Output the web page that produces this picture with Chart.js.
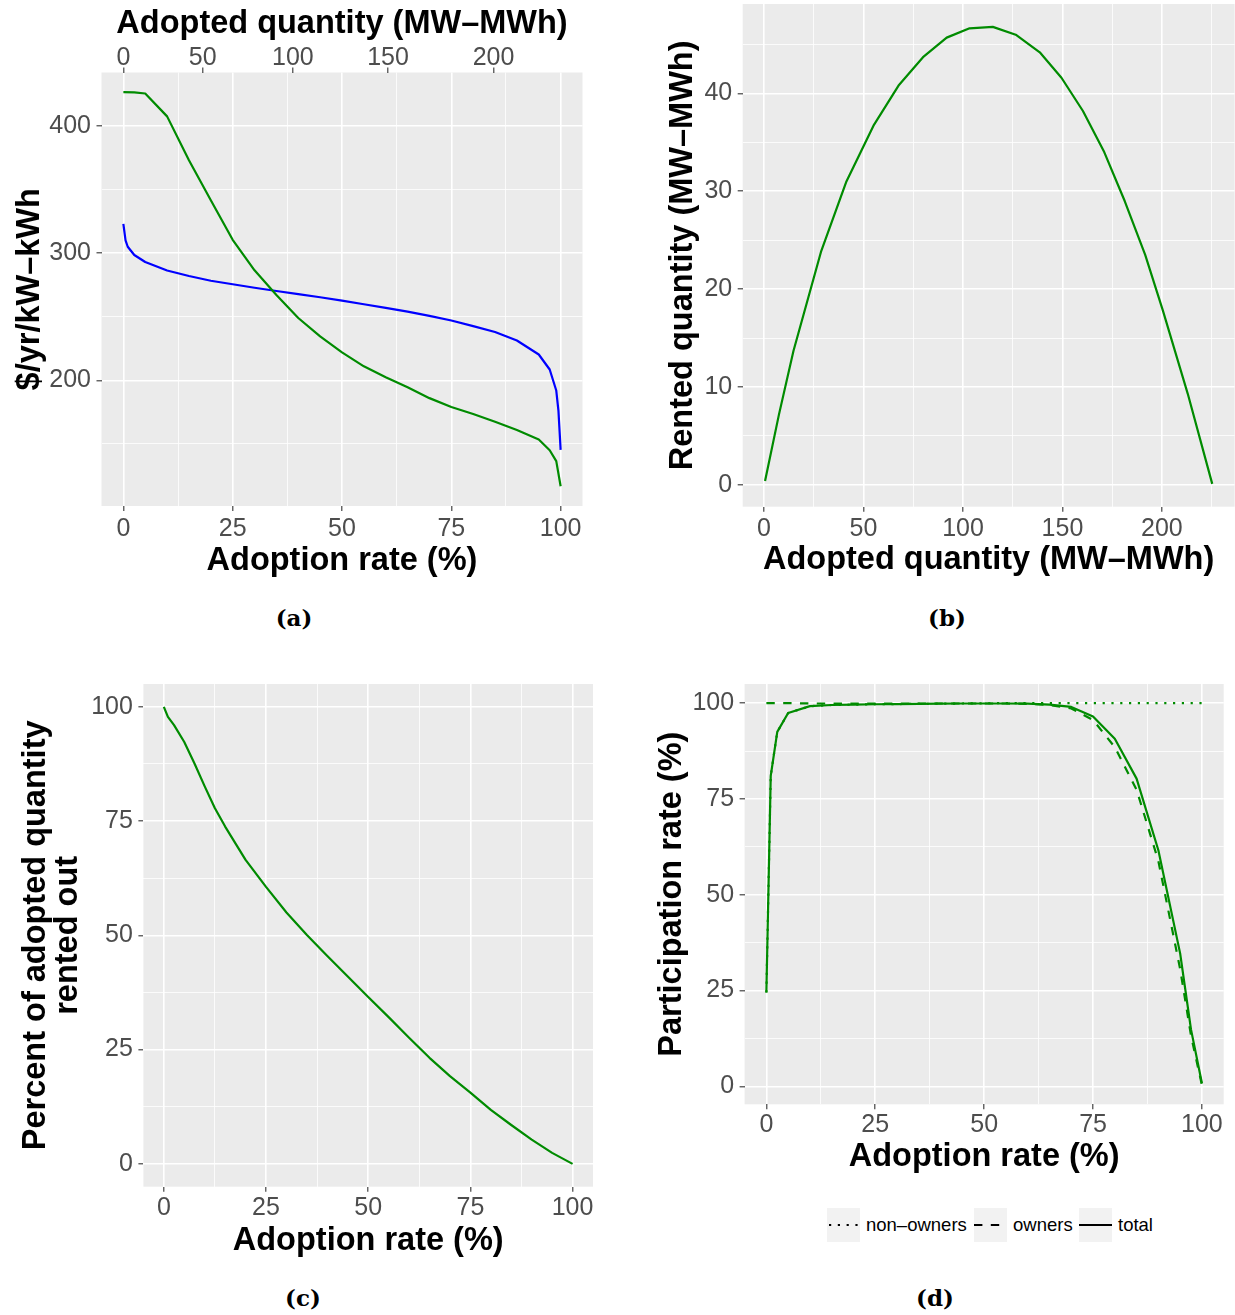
<!DOCTYPE html>
<html><head><meta charset="utf-8">
<script src="https://cdn.jsdelivr.net/npm/chart.js@4.4.1/dist/chart.umd.min.js"></script>
<style>
html,body{margin:0;padding:0;background:#fff;}
#root{position:relative;width:1235px;height:1315px;overflow:hidden;background:#fff;}
canvas{position:absolute;}
.cap{position:absolute;font-family:"DejaVu Serif",serif;font-weight:bold;font-size:23px;transform:translate(-50%,-50%);white-space:nowrap;color:#000;}
.lg{position:absolute;font-family:"Liberation Sans",Arial,sans-serif;font-size:18.5px;color:#000;line-height:34px;top:1208px;white-space:nowrap;}
.key{position:absolute;top:1208px;width:33px;height:34px;background:#F2F2F2;}
.key svg{position:absolute;left:0;top:0;}
</style></head>
<body><div id="root">
<div class="cap" style="left:294px;top:617px">(a)</div>
<div class="cap" style="left:947px;top:617px">(b)</div>
<div class="cap" style="left:303px;top:1297px">(c)</div>
<div class="cap" style="left:935px;top:1297px">(d)</div>
<div class="key" style="left:827px"><svg width="33" height="34"><line x1="2" y1="17" x2="32" y2="17" stroke="#000" stroke-width="2.2" stroke-dasharray="2.2 6.6"/></svg></div>
<div class="lg" style="left:866px">non–owners</div>
<div class="key" style="left:974px"><svg width="33" height="34"><line x1="0" y1="17" x2="33" y2="17" stroke="#000" stroke-width="2.2" stroke-dasharray="8.4 8.4"/></svg></div>
<div class="lg" style="left:1013px">owners</div>
<div class="key" style="left:1079px"><svg width="33" height="34"><line x1="0" y1="17" x2="33" y2="17" stroke="#000" stroke-width="2.2"/></svg></div>
<div class="lg" style="left:1118px">total</div>
</div>
<script>
// ---------- DATA ----------
// (a) annualized cost vs adoption rate
const aRateGreen = [0, 2.5, 5, 10, 15, 20, 25, 30, 35, 40, 45, 50, 55, 60, 65, 70, 75, 80, 85, 90, 95, 97.5, 99, 100];
const aGreen     = [426.5, 426.3, 425.5, 407.5, 373, 341.5, 310.5, 286.5, 267, 249, 234.5, 222, 211, 202.5, 194.5, 186, 179, 173.5, 167.5, 161, 153.5, 145, 136.5, 116.7];
const aRateBlue  = [0, 0.5, 1, 2.5, 5, 10, 15, 20, 25, 30, 35, 40, 45, 50, 55, 60, 65, 70, 75, 80, 85, 90, 95, 97.5, 99, 99.5, 100];
const aBlue      = [323, 310, 305, 298.5, 293, 286.3, 282, 278.3, 275.5, 272.8, 270.2, 267.7, 265.3, 262.6, 259.8, 257, 254, 250.7, 247, 242.6, 238, 231.3, 220.3, 208.5, 192, 176, 145.3];
const aXTicks = [0, 12.5, 25, 37.5, 50, 62.5, 75, 87.5, 100];
const aXMajor = [0, 25, 50, 75, 100];
const aYTicks = [150, 200, 250, 300, 350, 400];
const aYMajor = [200, 300, 400];
const aTopTickRate   = [0, 18.16, 38.77, 60.53, 84.65];
const aTopTickLabels = ['0', '50', '100', '150', '200'];

// (b) rented vs adopted quantity
const bQty  = [0.5, 7.5, 14.8, 28.6, 41.4, 55.0, 67.6, 79.9, 91.8, 103.3, 115.0, 126.5, 138.6, 149.5, 160.3, 171.0, 181.3, 191.6, 200.5, 213.0, 225.3];
const bRent = [0.4, 7.2, 13.7, 23.8, 31.0, 36.7, 40.8, 43.7, 45.7, 46.65, 46.8, 46.0, 44.2, 41.6, 38.2, 34.0, 29.0, 23.5, 17.8, 9.3, 0.1];
const bXTicks = [0, 25, 50, 75, 100, 125, 150, 175, 200, 225];
const bXMajor = [0, 50, 100, 150, 200];
const bYTicks = [0, 5, 10, 15, 20, 25, 30, 35, 40, 45];
const bYMajor = [0, 10, 20, 30, 40];

// (c) percent rented out vs adoption rate
const cRate = [0, 1, 2.5, 5, 7.5, 10, 12.5, 15, 20, 25, 30, 35, 40, 45, 50, 55, 60, 65, 70, 75, 80, 85, 90, 95, 100];
const cPct  = [100, 97.8, 96, 92.3, 87.6, 82.6, 77.8, 73.8, 66.5, 60.6, 55, 50.1, 45.5, 41, 36.5, 32.1, 27.6, 23.2, 19.2, 15.6, 11.8, 8.5, 5.3, 2.4, 0];

// (d) participation rate vs adoption rate
const dRate      = [0, 1, 2.5, 5, 10, 15, 20, 25, 30, 35, 40, 45, 50, 55, 60, 65, 70, 75, 80, 85, 90, 95, 97.5, 100];
const dTotal     = [24.5, 81, 92.5, 97.4, 99.2, 99.5, 99.6, 99.7, 99.75, 99.8, 99.85, 99.9, 99.9, 99.9, 99.85, 99.6, 99.0, 96.5, 90.7, 80.3, 61.6, 34.7, 14.8, 0.8];
const dOwners    = [100, 100, 100, 100, 99.9, 99.9, 99.9, 99.9, 99.9, 99.9, 99.9, 99.9, 99.9, 99.9, 99.8, 99.5, 98.6, 95.6, 88.5, 77.4, 58.8, 30.6, 13.2, 0.3];
const dNonOwners = [24.5, 81, 92.5, 97.4, 99.2, 99.5, 99.6, 99.7, 99.75, 99.8, 99.85, 99.9, 99.95, 100, 100, 100, 100, 100, 100, 100, 100, 100, 100, 100];
const cdTicks = [0, 12.5, 25, 37.5, 50, 62.5, 75, 87.5, 100];
const cdMajor = [0, 25, 50, 75, 100];

// ---------- HELPERS ----------
const FONT = '"Liberation Sans", Arial, Helvetica, sans-serif';
const GREEN = '#008B00', BLUE = '#0000FF';
function expand(arrs) {
  const all = [].concat(...arrs);
  const lo = Math.min(...all), hi = Math.max(...all), r = hi - lo;
  return [lo - 0.05 * r, hi + 0.05 * r];
}
const bgPlugin = {
  id: 'panelBg',
  beforeDraw(chart) {
    const {ctx, chartArea: a} = chart;
    ctx.save(); ctx.fillStyle = '#EBEBEB';
    ctx.fillRect(a.left, a.top, a.right - a.left, a.bottom - a.top);
    ctx.restore();
  }
};
function axis({pos, range, ticks, majors, labels, size, title, tpad, gridOn = true, lpad}) {
  const horiz = pos === 'top' || pos === 'bottom';
  const isMaj = v => majors.some(m => Math.abs(m - v) < 1e-9);
  return {
    type: 'linear', position: pos, min: range[0], max: range[1],
    afterBuildTicks: s => { s.ticks = ticks.map(v => ({value: v})); },
    afterFit: s => {
      if (horiz) s.height = size; else s.width = size;
      s.paddingLeft = 0; s.paddingRight = 0; s.paddingTop = 0; s.paddingBottom = 0;
    },
    border: {display: false},
    grid: {
      drawOnChartArea: gridOn, color: '#FFFFFF',
      lineWidth: c => (c.tick && isMaj(c.tick.value)) ? 1.6 : 0.8,
      drawTicks: true, tickLength: 5, tickWidth: 1.1,
      tickColor: c => (c.tick && isMaj(c.tick.value)) ? '#333333' : 'rgba(0,0,0,0)'
    },
    ticks: {
      autoSkip: false, maxRotation: 0, minRotation: 0, padding: lpad !== undefined ? lpad : (horiz ? 4 : 5.5),
      color: '#4D4D4D', font: {family: FONT, size: 25, lineHeight: 1},
      callback: (v, i) => labels ? labels[i] : (isMaj(v) ? String(v) : '')
    },
    title: {display: true, text: title, color: '#000000',
      font: {family: FONT, size: 32.5, weight: 'bold', lineHeight: 1}, padding: tpad}
  };
}
function line(xs, ys, color, dash) {
  return {data: xs.map((x, i) => ({x: x, y: ys[i]})), borderColor: color, borderWidth: 2.2,
    pointRadius: 0, tension: 0, fill: false, borderDash: dash || [], borderCapStyle: 'butt', borderJoinStyle: 'round'};
}
const root = document.getElementById('root');
function canvasAt(x, y, w, h) {
  const c = document.createElement('canvas');
  c.width = w; c.height = h;
  c.style.left = x + 'px'; c.style.top = y + 'px'; c.style.width = w + 'px'; c.style.height = h + 'px';
  root.appendChild(c); return c;
}
function chart(cv, datasets, scales, padding) {
  return new Chart(cv, {
    type: 'line', data: {datasets},
    options: {responsive: false, animation: false, events: [], devicePixelRatio: 1,
      layout: {autoPadding: false, padding},
      plugins: {legend: {display: false}, tooltip: {enabled: false}}, scales},
    plugins: [bgPlugin]
  });
}

// ---------- PANEL (a) ----------
const aXRange = expand([aRateGreen, aRateBlue]);
const aYRange = expand([aGreen, aBlue]);
chart(canvasAt(0, 0, 600, 600),
  [line(aRateGreen, aGreen, GREEN), line(aRateBlue, aBlue, BLUE)],
  {
    x: axis({pos: 'bottom', range: aXRange, ticks: aXTicks, majors: aXMajor, size: 94, lpad: 6,
      title: 'Adoption rate (%)', tpad: {top: 0, bottom: 22.75}}),
    x2: axis({pos: 'top', range: aXRange, ticks: aTopTickRate, majors: aTopTickRate, labels: aTopTickLabels, lpad: -3.5,
      size: 72.5, title: 'Adopted quantity (MW–MWh)', tpad: {top: 7.5, bottom: 0}, gridOn: false}),
    y: axis({pos: 'left', range: aYRange, ticks: aYTicks, majors: aYMajor, size: 101.5,
      title: '$/yr/kW–kWh', tpad: {top: 13.75, bottom: 0}})
  },
  {left: 0, top: 0, right: 17.5, bottom: 0});

// ---------- PANEL (b) ----------
chart(canvasAt(620, 0, 615, 600),
  [line(bQty, bRent, GREEN)],
  {
    x: axis({pos: 'bottom', range: expand([bQty]), ticks: bXTicks, majors: bXMajor, size: 93.3, lpad: 5,
      title: 'Adopted quantity (MW–MWh)', tpad: {top: 0, bottom: 23.75}}),
    y: axis({pos: 'left', range: expand([bRent]), ticks: bYTicks, majors: bYMajor, size: 122.7,
      title: 'Rented quantity (MW–MWh)', tpad: {top: 46.75, bottom: 0}})
  },
  {left: 0, top: 4, right: 0.4, bottom: 0});

// ---------- PANEL (c) ----------
chart(canvasAt(0, 640, 620, 640),
  [line(cRate, cPct, GREEN)],
  {
    x: axis({pos: 'bottom', range: expand([cRate]), ticks: cdTicks, majors: cdMajor, size: 93.3, lpad: 4,
      title: 'Adoption rate (%)', tpad: {top: 0, bottom: 22.75}}),
    y: axis({pos: 'left', range: expand([cPct]), ticks: cdTicks, majors: cdMajor, size: 143.4,
      title: ['Percent of adopted quantity', 'rented out'], tpad: {top: 19.75, bottom: 0}})
  },
  {left: 0, top: 44, right: 27, bottom: 0});

// ---------- PANEL (d) ----------
chart(canvasAt(620, 640, 615, 560),
  [line(dRate, dTotal, GREEN), line(dRate, dOwners, GREEN, [8.4, 8.4]), line(dRate, dNonOwners, GREEN, [2.2, 6.6])],
  {
    x: axis({pos: 'bottom', range: expand([dRate]), ticks: cdTicks, majors: cdMajor, size: 95.7, lpad: 3,
      title: 'Adoption rate (%)', tpad: {top: 0, bottom: 26.75}}),
    y: axis({pos: 'left', range: expand([dTotal, dOwners, dNonOwners]), ticks: cdTicks, majors: cdMajor, size: 124.6,
      title: 'Participation rate (%)', tpad: {top: 35.75, bottom: 0}})
  },
  {left: 0, top: 44, right: 11.3, bottom: 0});
</script>
</body></html>
